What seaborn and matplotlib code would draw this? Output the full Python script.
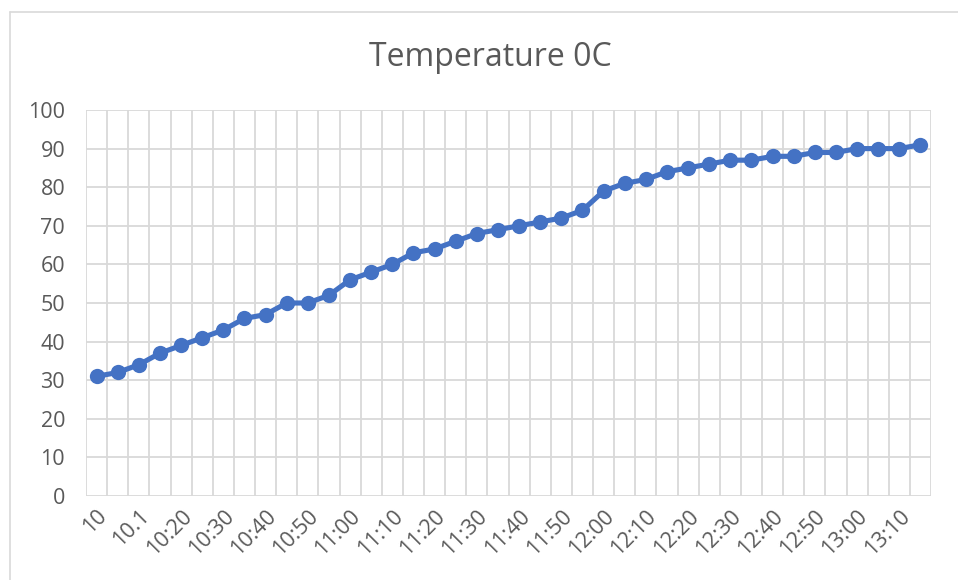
import numpy as np
import pandas as pd
import seaborn as sns
import matplotlib.pyplot as plt
from matplotlib.lines import Line2D

# data
times = ['10', '10:05', '10.1', '10:15', '10:20', '10:25', '10:30', '10:35',
         '10:40', '10:45', '10:50', '10:55', '11:00', '11:05', '11:10', '11:15',
         '11:20', '11:25', '11:30', '11:35', '11:40', '11:45', '11:50', '11:55',
         '12:00', '12:05', '12:10', '12:15', '12:20', '12:25', '12:30', '12:35',
         '12:40', '12:45', '12:50', '12:55', '13:00', '13:05', '13:10', '13:15']
temps = [31, 32, 34, 37, 39, 41, 43, 46, 47, 50, 50, 52, 56, 58, 60, 63, 64, 66, 68, 69,
         70, 71, 72, 74, 79, 81, 82, 84, 85, 86, 87, 87, 88, 88, 89, 89, 90, 90, 90, 91]

df = pd.DataFrame({'pos': np.arange(len(times)), 'Time': times, 'Temp': temps})

sns.set_style('white')
plt.rcParams['font.family'] = ['Open Sans', 'DejaVu Sans']
grey = '#595959'
gridc = '#D9D9D9'

fig = plt.figure(figsize=(9.58, 5.8), dpi=100)
ax = fig.add_axes([86/958, 1 - 496/580, (931 - 86)/958, (496 - 110)/580])

sns.lineplot(data=df, x='pos', y='Temp', ax=ax, color='#4472C4', linewidth=3.7,
             marker='o', markersize=11, markeredgewidth=0, zorder=3)

ax.set_xlim(-0.5, len(times) - 0.5)
ax.set_ylim(0, 100)
ax.set_yticks(range(0, 101, 10))
ax.set_xticks(df['pos'][::2])
ax.set_xticklabels(df['Time'][::2], rotation=45, ha='right', va='top',
                   rotation_mode='anchor')
ax.set_xticks(np.arange(-0.5, len(times), 1), minor=True)

ax.grid(False)
ax.grid(axis='y', which='major', color=gridc, linewidth=1.3)
ax.grid(axis='x', which='minor', color=gridc, linewidth=1.3)
ax.tick_params(axis='both', which='both', length=0, labelsize=15.5, colors=grey)
ax.tick_params(axis='x', pad=7)
ax.tick_params(axis='y', pad=15)
for s in ['top', 'right', 'bottom', 'left']:
    ax.spines[s].set_visible(False)
ax.set_xlabel('')
ax.set_ylabel('')

fig.text(0.512, 0.90, 'Temperature 0C', ha='center', va='center', fontsize=23, color=grey)

# chart border
fig.add_artist(Line2D([10/958, 10/958], [0, 1 - 12/580], color=gridc, linewidth=1.2))
fig.add_artist(Line2D([10/958, 1], [1 - 12/580, 1 - 12/580], color=gridc, linewidth=1.2))

fig.savefig('out.png', dpi=100, facecolor='white')
